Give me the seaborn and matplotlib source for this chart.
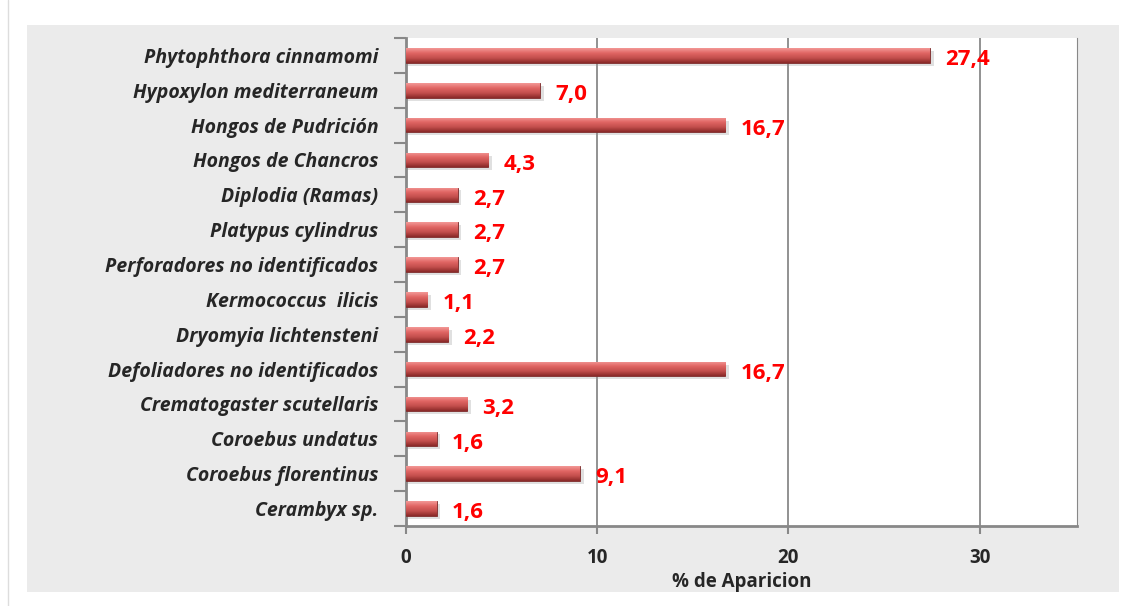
import numpy as np
import pandas as pd
import seaborn as sns
import matplotlib.pyplot as plt
from matplotlib.patches import Rectangle
from matplotlib.colors import LinearSegmentedColormap

# data, top to bottom
agentes = ["Phytophthora cinnamomi", "Hypoxylon mediterraneum", "Hongos de Pudrición",
           "Hongos de Chancros", "Diplodia (Ramas)", "Platypus cylindrus",
           "Perforadores no identificados", "Kermococcus  ilicis", "Dryomyia lichtensteni",
           "Defoliadores no identificados", "Crematogaster scutellaris", "Coroebus undatus",
           "Coroebus florentinus", "Cerambyx sp."]
porcentaje = [27.4, 7.0, 16.7, 4.3, 2.7, 2.7, 2.7, 1.1, 2.2, 16.7, 3.2, 1.6, 9.1, 1.6]
xticks = [0, 10, 20, 30]

df = pd.DataFrame({"agente": agentes, "pct": porcentaje})

sns.set_style("white")
plt.rcParams['font.family'] = ['Open Sans', 'DejaVu Sans']

fig = plt.figure(figsize=(11.22, 6.06), dpi=100)
W, H = 1122, 606
# grey panel behind the chart
fig.add_artist(Rectangle((27 / W, 1 - 592 / H), (1119 - 27) / W, (592 - 25) / H,
                         transform=fig.transFigure, facecolor="#ebebeb",
                         edgecolor="none", zorder=-10))
fig.add_artist(plt.Line2D([8 / W, 8 / W], [0, 1], color="#dddddd", lw=1, zorder=-10))

ax = fig.add_axes([406 / W, 1 - 526 / H, (1077 - 406) / W, (526 - 38) / H])
ax.set_facecolor("white")

sns.barplot(data=df, y="agente", x="pct", orient="h", color="#c94f4d",
            width=0.42, ax=ax, saturation=1, zorder=3)

# shaded look on each bar
cmap = LinearSegmentedColormap.from_list("barra", ["#f39896", "#e06664", "#c34e4c", "#8a2a29"])
grad = np.linspace(0, 1, 64).reshape(-1, 1)
for p in list(ax.patches):
    x0, y0 = p.get_x(), p.get_y()
    w, h = p.get_width(), p.get_height()
    # shadow
    ax.add_patch(Rectangle((x0, y0 + h * 0.2), w + 0.2, h, facecolor="#999999",
                           alpha=0.3, edgecolor="none", zorder=2))
    im = ax.imshow(grad, extent=(x0, x0 + w, y0 + h, y0), cmap=cmap, aspect="auto",
                   origin="upper", zorder=4)
    im.set_clip_path(p)
    p.set_edgecolor("#7a2a2a")
    p.set_linewidth(0.6)

for i, v in enumerate(porcentaje):
    ax.annotate(f"{v:.1f}".replace(".", ","), (v, i), xytext=(11, -3),
                textcoords="offset points", va="center", ha="left",
                color="#ff0000", fontsize=16, fontweight="bold", zorder=6)

ax.set_xlim(0, 35.1)
ax.set_ylim(len(agentes) - 0.5, -0.5)
ax.set_xticks(xticks)
ax.set_xticklabels([str(t) for t in xticks], fontsize=13.5, fontweight="bold")
ax.set_yticks(range(len(agentes)))
ax.set_yticklabels(agentes, fontsize=14, fontweight="bold", style="italic")
ax.tick_params(axis="y", length=0, pad=20)
ax.tick_params(axis="x", length=6, width=1.5, color="#888888", pad=10, bottom=True)

# y ticks at category boundaries
ax.set_yticks(np.arange(-0.5, len(agentes)), minor=True)
ax.tick_params(axis="y", which="minor", length=9, width=1.5, color="#888888", left=True)

ax.xaxis.grid(True, color="#7f7f7f", lw=1.2, zorder=1)
ax.set_axisbelow(True)
ax.spines["top"].set_visible(False)
ax.spines["right"].set_color("#888888")
for s in ["left", "bottom"]:
    ax.spines[s].set_color("#888888")
    ax.spines[s].set_linewidth(2)

ax.set_ylabel("")
ax.set_xlabel("% de Aparicion", fontsize=13.5, fontweight="bold", labelpad=3)

fig.savefig("out.png", dpi=100, facecolor="white")
